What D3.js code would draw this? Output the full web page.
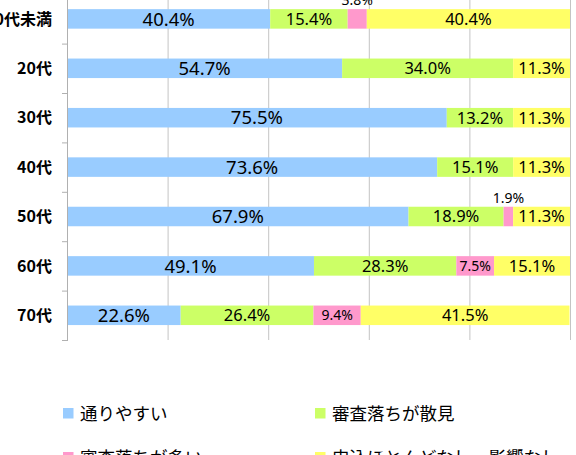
<!DOCTYPE html>
<html>
<head>
<meta charset="utf-8">
<script src="https://d3js.org/d3.v7.min.js"></script>
<style>
  body { margin: 0; background: #fff; }
  svg { display: block; }
</style>
</head>
<body>
<script>
  // chart data
  const ages = ["20代未満", "20代", "30代", "40代", "50代", "60代", "70代"];
  const seriesNames = ["通りやすい", "審査落ちが散見", "審査落ちが多い", "申込ほとんどなし・影響なし"];
  const easy = [40.4, 54.7, 75.5, 73.6, 67.9, 49.1, 22.6];
  const someFail = [15.4, 34.0, 13.2, 15.1, 18.9, 28.3, 26.4];
  const manyFail = [3.8, 0, 0, 0, 1.9, 7.5, 9.4];
  const noEffect = [40.4, 11.3, 11.3, 11.3, 11.3, 15.1, 41.5];
  const xTicks = [0, 20, 40, 60, 80, 100];

  const colors = ["#99CCFF", "#CCFF66", "#FF99CC", "#FFFF66"];

  let width = 576;
  let height = 455;

  const rows = ages.map((a, i) => ({
    age: a, s0: easy[i], s1: someFail[i], s2: manyFail[i], s3: noEffect[i]
  }));
  const keys = ["s0", "s1", "s2", "s3"];
  const stacked = d3.stack().keys(keys)(rows);

  let svg = d3.select("body").append("svg")
    .attr("width", width)
    .attr("height", height);

  let x = d3.scaleLinear().domain([0, 100]).range([67, 570]);
  let y = d3.scaleBand().domain(ages).range([-5.8, 340])
    .paddingInner(0.605).paddingOuter(0.3025);

  // vertical gridlines
  svg.append("g").selectAll("line")
    .data(xTicks.slice(1))
    .join("line")
    .attr("x1", d => x(d) + 0.5).attr("x2", d => x(d) + 0.5)
    .attr("y1", -10).attr("y2", 340)
    .attr("stroke", "#C4C4C4").attr("stroke-width", 1);

  // bars
  svg.append("g").selectAll("g")
    .data(stacked)
    .join("g")
    .attr("fill", (d, i) => colors[i])
    .selectAll("rect")
    .data(d => d)
    .join("rect")
    .attr("x", d => x(d[0]))
    .attr("y", d => y(d.data.age))
    .attr("width", d => x(d[1]) - x(d[0]))
    .attr("height", y.bandwidth());

  // y axis line and ticks
  let yAxis = svg.append("g");
  yAxis.append("line")
    .attr("x1", 67.5).attr("x2", 67.5).attr("y1", -10).attr("y2", 341)
    .attr("stroke", "#B0B0B0");
  const tickYs = ages.map(a => y(a) - y.step() * 0.3025).concat([340]);
  yAxis.selectAll(".tk")
    .data(tickYs)
    .join("line")
    .attr("class", "tk")
    .attr("x1", 62).attr("x2", 67)
    .attr("y1", d => d + 0.5).attr("y2", d => d + 0.5)
    .attr("stroke", "#B0B0B0");
  yAxis.selectAll("text")
    .data(ages)
    .join("text")
    .attr("x", 52)
    .attr("y", d => y(d) + y.bandwidth() / 2)
    .attr("dy", "0.36em")
    .attr("text-anchor", "end")
    .style("font-family", "'Noto Sans CJK JP', sans-serif")
    .style("font-weight", "bold")
    .style("font-size", "16px")
    .text(d => d);

  // value labels
  let labels = [];
  stacked.forEach((s, si) => {
    s.forEach(d => {
      const v = d[1] - d[0];
      if (v <= 0) return;
      const small = v < 5;
      labels.push({
        text: v.toFixed(1) + "%",
        cx: (x(d[0]) + x(d[1])) / 2,
        cy: small ? y(d.data.age) - 9 : y(d.data.age) + y.bandwidth() / 2,
        size: si === 0 ? 18.5 : (si === 2 ? 14 : 16.5)
      });
    });
  });
  svg.append("g").selectAll("text")
    .data(labels)
    .join("text")
    .attr("x", d => d.cx)
    .attr("y", d => d.cy)
    .attr("dy", "0.36em")
    .attr("text-anchor", "middle")
    .style("font-family", "'Noto Sans', sans-serif")
    .style("font-size", d => d.size + "px")
    .style("fill", "#000")
    .text(d => d.text);

  // legend
  const legendPos = [[63, 413.5], [315, 413.5], [63, 457.5], [315, 457.5]];
  let legend = svg.append("g").selectAll("g")
    .data(seriesNames)
    .join("g")
    .attr("transform", (d, i) => `translate(${legendPos[i][0]},${legendPos[i][1]})`);
  legend.append("rect")
    .attr("x", 0).attr("y", -5.5)
    .attr("width", 10.5).attr("height", 10.5)
    .attr("fill", (d, i) => colors[i]);
  legend.append("text")
    .attr("x", 17)
    .attr("dy", "0.36em")
    .style("font-family", "'Noto Sans CJK JP', sans-serif")
    .style("font-size", "17.5px")
    .text(d => d);
</script>
</body>
</html>
